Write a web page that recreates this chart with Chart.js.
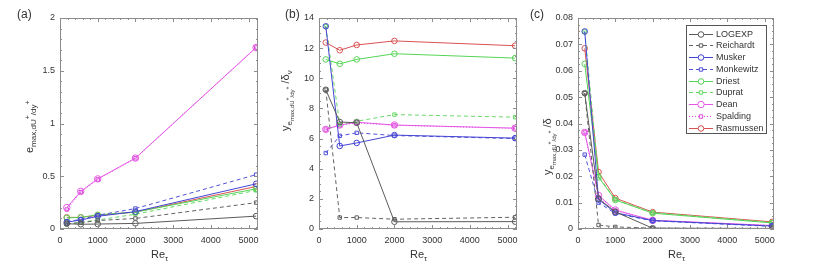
<!DOCTYPE html>
<html>
<head>
<meta charset="utf-8">
<script src="https://cdn.jsdelivr.net/npm/chart.js@4.4.0/dist/chart.umd.min.js"></script>
<style>
html, body { margin: 0; padding: 0; background: #fff; }
#wrap { position: relative; width: 831px; height: 265px; }
#wrap canvas { position: absolute; left: 0; top: 0; }
</style>
</head>
<body>
<div id="wrap">
  <canvas id="chartA" width="831" height="265"></canvas>
  <canvas id="chartB" width="831" height="265"></canvas>
  <canvas id="chartC" width="831" height="265"></canvas>
</div>
<script>
// Re_tau values shared by all three panels
const reTau = [180, 550, 1000, 2000, 5200];
const xTicks = [0, 1000, 2000, 3000, 4000, 5000];
const modelNames = ['LOGEXP', 'Reichardt', 'Musker', 'Monkewitz', 'Driest', 'Duprat', 'Dean', 'Spalding', 'Rasmussen'];

// (a) e_max,dU+/dy+
const eMaxLOGEXP    = [0.050, 0.045, 0.047, 0.053, 0.122];
const eMaxReichardt = [0.050, 0.060, 0.080, 0.100, 0.250];
const eMaxMusker    = [0.065, 0.085, 0.120, 0.165, 0.428];
const eMaxMonkewitz = [0.070, 0.090, 0.130, 0.194, 0.515];
const eMaxDriest    = [0.105, 0.110, 0.135, 0.160, 0.381];
const eMaxDuprat    = [0.045, 0.065, 0.085, 0.140, 0.366];
const eMaxDean      = [0.203, 0.356, 0.475, 0.672, 1.720];
const eMaxSpalding  = [0.185, 0.350, 0.470, 0.670, 1.720];
const eMaxRasmussen = [0.110, 0.110, 0.130, 0.160, 0.403];
const yTicksA = [0, 0.5, 1, 1.5, 2];

// (b) y location / delta_nu
const yNuLOGEXP    = [9.24, 7.10, 7.05, 0.48, 0.49];
const yNuReichardt = [9.24, 0.76, 0.76, 0.65, 0.78];
const yNuMusker    = [13.45, 5.51, 5.71, 6.23, 6.03];
const yNuMonkewitz = [5.04, 6.18, 6.38, 6.20, 6.00];
const yNuDriest    = [11.25, 10.96, 11.25, 11.63, 11.34];
const yNuDuprat    = [13.45, 6.95, 7.15, 7.59, 7.42];
const yNuDean      = [6.61, 6.90, 7.08, 6.90, 6.69];
const yNuSpalding  = [6.60, 6.88, 7.05, 6.88, 6.68];
const yNuRasmussen = [12.37, 11.86, 12.21, 12.48, 12.16];
const yTicksB = [0, 2, 4, 6, 8, 10, 12, 14];

// (c) y location / delta
const yDelLOGEXP    = [0.0515, 0.0115, 0.0065, 0.0003, 0.0002];
const yDelReichardt = [0.0515, 0.0015, 0.0008, 0.0003, 0.0002];
const yDelMusker    = [0.0749, 0.0112, 0.0062, 0.0032, 0.0011];
const yDelMonkewitz = [0.0282, 0.0100, 0.0059, 0.0031, 0.0010];
const yDelDriest    = [0.0626, 0.0196, 0.0110, 0.0060, 0.0023];
const yDelDuprat    = [0.0749, 0.0200, 0.0112, 0.0062, 0.0025];
const yDelDean      = [0.0366, 0.0127, 0.0072, 0.0033, 0.0013];
const yDelSpalding  = [0.0366, 0.0120, 0.0070, 0.0033, 0.0013];
const yDelRasmussen = [0.0685, 0.0216, 0.0117, 0.0064, 0.0027];
const yTicksC = [0, 0.01, 0.02, 0.03, 0.04, 0.05, 0.06, 0.07, 0.08];

const FONT = '"Liberation Sans", Arial, sans-serif';
const TXT = '#333';

// line style per model (same order as modelNames)
const styles = [
  { c: '#5a5a5a', dash: [],     pt: 'circle', r: 2.8 },
  { c: '#626262', dash: [4, 3], pt: 'rect',   r: 2.4 },
  { c: '#4444d4', dash: [],     pt: 'circle', r: 2.8 },
  { c: '#5252d6', dash: [4, 3], pt: 'rect',   r: 2.4 },
  { c: '#55d455', dash: [],     pt: 'circle', r: 2.8 },
  { c: '#66d866', dash: [4, 3], pt: 'rect',   r: 2.4 },
  { c: '#e655e6', dash: [],     pt: 'circle', r: 3.2 },
  { c: '#d948d9', dash: [1, 2], pt: 'rect',   r: 2.4 },
  { c: '#d95252', dash: [],     pt: 'circle', r: 2.8 }
];

function buildDatasets(series) {
  return series.map((vals, i) => ({
    label: modelNames[i],
    data: vals.map((v, k) => ({ x: reTau[k], y: v })),
    borderColor: styles[i].c,
    borderWidth: 1,
    borderDash: styles[i].dash,
    pointStyle: styles[i].pt,
    pointRadius: styles[i].r,
    pointBorderColor: styles[i].c,
    pointBackgroundColor: 'rgba(0,0,0,0)',
    pointBorderWidth: 1,
    tension: 0,
    fill: false
  }));
}

// text with sub/superscripts, drawn from a baseline start point
function drawRich(ctx, x, y, segs, angle) {
  ctx.save();
  ctx.translate(x, y);
  ctx.rotate(angle);
  ctx.fillStyle = TXT;
  ctx.textAlign = 'left';
  ctx.textBaseline = 'alphabetic';
  let cx = 0;
  segs.forEach(s => {
    ctx.font = s.size + 'px ' + FONT;
    ctx.fillText(s.t, cx, s.dy || 0);
    cx += ctx.measureText(s.t).width;
  });
  ctx.restore();
}

function fmt(v) { return String(+v.toFixed(4)); }

function makePanel(id, box, yTicks, yMinor, series, deco) {
  const yMax = yTicks[yTicks.length - 1];
  const decoPlugin = {
    id: 'deco' + id,
    afterDraw(chart) {
      const { ctx, chartArea: a, scales: { x, y } } = chart;
      ctx.save();
      ctx.strokeStyle = '#8c8c8c';
      ctx.lineWidth = 1;
      ctx.strokeRect(a.left + 0.5, a.top + 0.5, a.right - a.left - 1, a.bottom - a.top - 1);
      ctx.beginPath();
      for (let v = 0; v <= 5250; v += 200) {
        const px = Math.round(x.getPixelForValue(v)) + 0.5;
        const len = v % 1000 === 0 ? 4 : 2;
        ctx.moveTo(px, a.bottom); ctx.lineTo(px, a.bottom - len);
        ctx.moveTo(px, a.top); ctx.lineTo(px, a.top + len);
      }
      const nMinor = Math.round(yMax / yMinor);
      const per = Math.round((yTicks[1] - yTicks[0]) / yMinor);
      for (let n = 0; n <= nMinor; n++) {
        const py = Math.round(y.getPixelForValue(n * yMinor)) + 0.5;
        const len = n % per === 0 ? 4 : 2;
        ctx.moveTo(a.left, py); ctx.lineTo(a.left + len, py);
        ctx.moveTo(a.right, py); ctx.lineTo(a.right - len, py);
      }
      ctx.stroke();
      ctx.restore();

      // x title Re_tau
      const cxm = (a.left + a.right) / 2;
      drawRich(ctx, cxm - 8, 258, [{ t: 'Re', size: 11 }, { t: '\u03c4', size: 8, dy: 3 }], 0);
      // panel letter
      ctx.save();
      ctx.fillStyle = TXT;
      ctx.font = '12px ' + FONT;
      ctx.textBaseline = 'alphabetic';
      ctx.fillText(deco.letter, deco.letterX, 18);
      ctx.restore();
      // y title
      drawRich(ctx, deco.titleX, deco.titleY, deco.title, -Math.PI / 2);
      if (deco.legend) drawLegend(chart);
    }
  };

  return new Chart(document.getElementById(id), {
    type: 'line',
    data: { datasets: buildDatasets(series) },
    options: {
      responsive: false,
      animation: false,
      devicePixelRatio: 1,
      layout: { padding: { left: box.left - 45, right: 831 - box.right, top: box.top, bottom: 265 - box.bottom - 20 } },
      plugins: { legend: { display: false }, tooltip: { enabled: false } },
      scales: {
        x: {
          type: 'linear', min: 0, max: 5250,
          grid: { display: false, drawTicks: false },
          border: { display: false },
          afterBuildTicks(s) { s.ticks = xTicks.map(v => ({ value: v })); },
          afterFit(s) { s.height = 20; },
          ticks: { color: TXT, font: { family: FONT, size: 9 }, padding: 6, maxRotation: 0, callback: v => fmt(v) }
        },
        y: {
          type: 'linear', min: 0, max: yMax,
          grid: { display: false, drawTicks: false },
          border: { display: false },
          afterBuildTicks(s) { s.ticks = yTicks.map(v => ({ value: v })); },
          afterFit(s) { s.width = 45; },
          ticks: { color: TXT, font: { family: FONT, size: 9 }, padding: 5, callback: v => fmt(v) }
        }
      }
    },
    plugins: [decoPlugin]
  });
}

function drawLegend(chart) {
  const ctx = chart.ctx;
  const bx = 686, by = 25, bw = 80, bh = 108;
  ctx.save();
  ctx.fillStyle = '#fff';
  ctx.fillRect(bx, by, bw, bh);
  ctx.strokeStyle = '#555';
  ctx.lineWidth = 1;
  ctx.strokeRect(bx + 0.5, by + 0.5, bw, bh);
  chart.data.datasets.forEach((ds, i) => {
    const yy = Math.round(by + 8.5 + i * 11.75) + 0.5;
    ctx.strokeStyle = ds.borderColor;
    ctx.setLineDash(ds.borderDash);
    ctx.beginPath();
    ctx.moveTo(689, yy); ctx.lineTo(713, yy);
    ctx.stroke();
    ctx.setLineDash([]);
    ctx.beginPath();
    if (ds.pointStyle === 'circle') {
      ctx.arc(701, yy, ds.pointRadius, 0, Math.PI * 2);
    } else {
      const h = ds.pointRadius * Math.SQRT1_2;
      ctx.rect(701 - h, yy - h, 2 * h, 2 * h);
    }
    ctx.fillStyle = '#fff';
    ctx.fill();
    ctx.stroke();
    ctx.fillStyle = TXT;
    ctx.font = '9px ' + FONT;
    ctx.textBaseline = 'middle';
    ctx.fillText(ds.label, 716, yy + 0.5);
  });
  ctx.restore();
}

const titleA = [
  { t: 'e', size: 11 }, { t: 'max,dU', size: 8, dy: 3 }, { t: '+', size: 7, dy: -3 },
  { t: '/dy', size: 8, dy: 3 }, { t: '+', size: 7, dy: -3 }
];
const titleB = [
  { t: 'y', size: 11 }, { t: 'e', size: 8, dy: 3 }, { t: 'max,dU', size: 6, dy: 5 }, { t: '+', size: 5, dy: 0 },
  { t: '/dy', size: 6, dy: 5 }, { t: '+', size: 5, dy: 0 }, { t: ' /\u03b4', size: 11 }, { t: '\u03bd', size: 8, dy: 3 }
];
const titleC = [
  { t: 'y', size: 11 }, { t: 'e', size: 8, dy: 3 }, { t: 'max,dU', size: 6, dy: 5 }, { t: '+', size: 5, dy: 0 },
  { t: '/dy', size: 6, dy: 5 }, { t: '+', size: 5, dy: 0 }, { t: ' /\u03b4', size: 11 }
];

makePanel('chartA', { left: 60, right: 258, top: 18, bottom: 229 }, yTicksA, 0.1,
  [eMaxLOGEXP, eMaxReichardt, eMaxMusker, eMaxMonkewitz, eMaxDriest, eMaxDuprat, eMaxDean, eMaxSpalding, eMaxRasmussen],
  { letter: '(a)', letterX: 17, title: titleA, titleX: 33, titleY: 153 });

makePanel('chartB', { left: 319, right: 517, top: 18, bottom: 229 }, yTicksB, 0.5,
  [yNuLOGEXP, yNuReichardt, yNuMusker, yNuMonkewitz, yNuDriest, yNuDuprat, yNuDean, yNuSpalding, yNuRasmussen],
  { letter: '(b)', letterX: 285, title: titleB, titleX: 289, titleY: 131 });

makePanel('chartC', { left: 578, right: 774, top: 18, bottom: 229 }, yTicksC, 0.0025,
  [yDelLOGEXP, yDelReichardt, yDelMusker, yDelMonkewitz, yDelDriest, yDelDuprat, yDelDean, yDelSpalding, yDelRasmussen],
  { letter: '(c)', letterX: 530, title: titleC, titleX: 551, titleY: 175, legend: true });
</script>
</body>
</html>
